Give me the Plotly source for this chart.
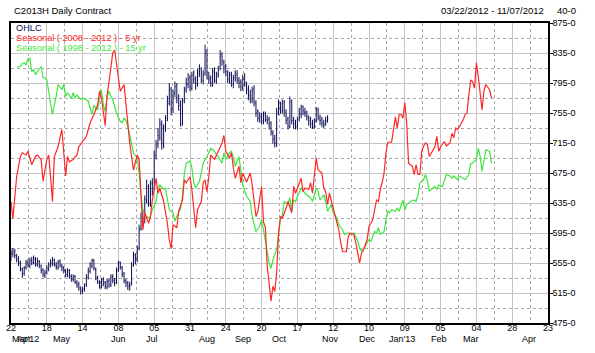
import plotly.graph_objects as go

# ---------------- data (x = trading-day index from 22 Mar 2012) ----------------
ohlc_days = list(range(169))
opens = [562,567,571,564,561,555,547,541,549,556,
         551,559,555,561,553,557,551,546,539,543,
         547,553,554,559,553,549,557,551,549,544,
         539,545,537,533,537,529,527,521,517,521,
         526,536,544,551,559,547,536,529,524,533,
         529,523,531,525,537,531,529,546,556,549,
         541,531,529,522,527,553,566,559,575,601,
         617,612,638,657,633,662,655,698,714,722,
         742,712,737,748,768,787,758,782,792,773,
         768,740,772,787,793,802,788,807,798,793,
         810,814,798,808,838,803,802,792,812,798,
         807,815,833,822,817,808,798,807,793,802,
         807,798,797,788,802,792,787,778,772,787,
         768,757,746,752,743,754,746,747,742,728,
         722,712,757,767,758,770,756,747,736,772,
         743,742,736,747,753,764,756,757,748,747,
         742,736,744,760,748,747,739,742,744]
highs = [573,575,574,567,564,558,549,551,559,560,
         562,563,565,563,562,559,553,548,546,552,
         556,560,563,561,556,559,560,554,551,547,
         548,547,540,540,539,532,530,524,523,528,
         540,549,556,561,560,549,538,532,535,536,
         531,534,534,540,540,535,549,558,557,551,
         543,534,531,530,556,570,568,578,606,622,
         626,645,666,660,665,668,705,719,735,748,
         745,740,752,778,795,790,786,797,795,780,
         772,775,790,802,808,806,810,812,804,814,
         820,816,812,846,840,810,805,815,816,810,
         818,839,836,826,820,812,810,810,806,812,
         812,803,800,806,808,797,792,786,790,792,
         772,760,756,755,757,757,752,750,744,732,
         726,762,773,770,773,772,760,750,777,773,
         750,746,750,762,766,765,762,758,752,750,
         746,748,763,762,753,750,746,750,752]
lows = [558,563,561,556,551,544,535,538,546,549,
        548,552,553,550,550,548,541,536,535,540,
        544,549,551,550,546,546,549,544,541,536,
        536,534,530,530,527,522,518,513,514,517,
        523,533,541,548,545,532,527,521,521,524,
        520,520,522,523,528,524,527,543,546,536,
        528,523,519,518,525,550,553,556,572,598,
        604,608,634,630,630,645,652,693,708,718,
        706,708,730,744,765,752,755,776,768,758,
        737,738,768,782,788,784,785,794,786,790,
        803,795,793,805,800,794,790,790,795,794,
        802,812,818,808,804,795,794,790,788,797,
        794,788,784,785,790,780,772,768,768,764,
        750,743,742,740,740,743,740,733,725,714,
        709,710,752,754,754,750,740,733,735,740,
        734,733,733,744,748,752,750,745,738,735,
        734,734,742,745,739,736,735,738,742]
closes = [568,570,565,560,556,548,540,548,555,552,
          558,556,560,554,558,552,545,540,542,548,
          552,555,558,554,550,556,552,548,545,540,
          544,538,534,536,530,526,522,518,520,524,
          535,545,552,558,548,535,530,525,532,528,
          524,530,526,536,532,528,545,555,550,540,
          532,528,524,525,552,565,560,572,600,615,
          610,640,655,635,660,650,700,712,725,740,
          715,735,745,770,785,760,780,790,775,765,
          742,770,785,795,800,790,805,800,795,808,
          812,800,805,835,805,800,795,810,800,805,
          812,830,825,815,810,800,805,795,800,805,
          800,795,790,800,795,785,780,775,785,770,
          755,748,750,745,752,748,745,740,730,720,
          715,755,765,760,768,758,745,738,770,745,
          740,738,745,755,762,758,755,750,745,740,
          738,742,758,750,745,742,740,745,748]

red_days = [0,1,3,5,6,8,9,11,13,14,16,17,19,20,21,22,23,25,26,27,28,29,30,31,33,35,36,38,
            40,41,42,44,46,47,48,50,51,53,54,55,56,58,60,61,62,63,65,67,68,69,70,71,73,74,
            75,77,78,79,81,83,84,85,86,88,89,91,92,93,95,96,97,98,99,101,102,103,104,105,
            106,108,110,112,113,114,116,117,118,119,121,122,123,125,127,128,130,131,133,
            134,135,136,137,138,139,140,141,142,143,144,146,147,149,150,151,152,154,155,
            156,158,159,160,162,163,165,166,167,168,169,171,172,174,175,176,178,179,180,
            182,183,184,185,186,187,189,190,191,192,194,195,196,197,198,199,200,202,203,
            204,205,206,207,208,209,210,211,213,214,215,216,217,218,219,220,221,222,224,
            225,226,227,228,230,231,233,234,235,236,237,238,240,241,242,243,244,245,246,
            247,248,250,251,252,254,255]
red_vals = [637,614,670,697,702,699,704,686,697,699,693,664,693,699,670,637,697,710,722,733,
            702,671,697,690,693,699,710,717,724,733,742,753,766,784,775,738,779,815,835,839,
            822,784,793,768,740,715,679,699,693,648,599,622,608,617,639,668,648,655,637,608,
            586,574,606,602,624,639,666,662,670,653,624,602,626,637,662,666,650,670,699,693,
            704,715,725,704,695,702,682,668,684,662,675,663,675,659,617,624,657,610,602,550,
            528,504,524,517,542,595,617,615,628,637,622,657,648,655,668,650,655,653,662,648,
            695,679,675,655,650,633,648,628,617,599,582,570,570,590,595,593,582,570,555,568,
            572,586,604,608,613,639,637,653,662,675,702,716,716,733,750,735,753,753,748,769,
            742,688,684,673,686,673,673,704,711,715,713,697,706,710,724,704,710,717,711,715,
            728,722,735,733,737,746,753,755,779,799,797,788,822,804,759,785,793,786,775]

green_days = [3,5,6,7,8,9,10,11,12,13,14,16,17,18,19,20,21,22,23,24,25,27,28,29,30,32,33,34,
              35,37,38,40,41,42,43,44,46,47,48,49,50,51,52,53,54,55,56,58,59,60,61,62,63,64,
              65,67,68,69,70,71,73,74,75,77,78,79,81,82,83,84,86,87,88,90,91,92,93,95,96,97,
              98,100,101,102,104,105,106,108,109,110,112,113,114,116,117,118,119,121,122,
              123,125,127,128,130,132,133,134,136,137,138,139,141,142,143,144,145,147,148,
              149,150,151,153,154,156,157,159,160,162,163,164,166,167,168,170,171,173,174,
              176,177,179,180,182,184,185,186,188,189,190,191,193,194,195,196,198,199,200,
              201,202,204,205,206,208,209,210,211,212,214,215,216,217,219,220,221,222,223,
              225,226,227,229,230,231,233,234,235,237,238,240,241,243,244,245,247,248,249,
              250,251,252,254,255]
green_vals = [816,817,821,822,819,827,828,810,813,806,810,817,802,802,799,784,768,753,766,777,
              793,786,793,777,782,774,782,775,779,773,775,773,771,762,753,765,759,775,786,766,
              757,777,784,777,773,764,755,744,742,748,745,737,724,713,702,695,675,644,626,619,
              615,617,626,637,655,659,653,655,642,626,622,611,617,628,644,675,688,691,682,662,
              655,664,675,688,697,702,708,704,699,697,688,702,693,702,704,695,684,697,679,659,
              644,637,617,597,604,613,599,573,555,548,559,573,590,613,619,637,633,642,624,639,
              637,648,655,648,646,642,637,655,651,639,646,637,624,633,622,615,606,599,593,595,
              593,595,584,575,571,577,582,586,584,597,595,602,593,597,613,624,622,626,624,628,
              624,639,626,633,635,637,639,637,646,662,666,673,664,651,653,657,653,659,657,664,
              673,671,668,671,666,671,668,666,673,688,688,693,708,697,677,693,706,704,688]

x_tick_days = [0, 19, 38, 57, 76, 95, 114, 133, 152, 171, 190, 209, 228, 247, 266, 285]
x_tick_text = ["22", "18", "14", "08", "05", "31", "24", "20", "17", "12", "10", "09", "05", "04", "28", "23"]
month_labels = ["Mar'12", "Apr", "May", "Jun", "Jul", "Aug", "Sep", "Oct", "Nov", "Dec", "Jan'13", "Feb", "Mar", "Apr"]
month_label_days = [0.0, 6.8, 27.3, 57.3, 74.7, 104.1, 123.0, 142.5, 169.8, 189.3, 207.7, 227.2, 244.0, 275.0]
y_tick_vals = [475, 515, 555, 595, 635, 675, 715, 755, 795, 835, 875]
y_tick_text = [f"{v}-0" for v in y_tick_vals]

# ---------------- figure ----------------
W, H = 595, 353
L, R, T, B = 6, 47, 23, 30
FONT = "Arial, Liberation Sans, sans-serif"
NAVY = "#0d0d55"
RED = "#ff2626"
GREEN = "#3ee63e"

def px_x(px):
    return (px - L) / (W - L - R)

def px_y(py):
    return (H - B - py) / (H - T - B)

fig = go.Figure()
fig.add_trace(go.Scatter(x=green_days, y=green_vals, mode="lines",
                         line=dict(color=GREEN, width=1.2), showlegend=False, hoverinfo="skip"))
fig.add_trace(go.Scatter(x=red_days, y=red_vals, mode="lines",
                         line=dict(color=RED, width=1.2), showlegend=False, hoverinfo="skip"))
fig.add_trace(go.Ohlc(x=ohlc_days, open=opens, high=highs, low=lows, close=closes,
                      increasing=dict(line=dict(color=NAVY, width=1)),
                      decreasing=dict(line=dict(color=NAVY, width=1)),
                      tickwidth=0.35, showlegend=False))

fig.update_layout(
    width=W, height=H,
    margin=dict(l=L, r=R, t=T, b=B, pad=0),
    paper_bgcolor="white", plot_bgcolor="white",
    font=dict(family=FONT, size=9, color="black"),
    showlegend=False,
    xaxis=dict(
        range=[0, 285], tickmode="array", tickvals=x_tick_days, ticktext=x_tick_text,
        showgrid=True, gridcolor="#c4c4c4", gridwidth=1,
        showline=True, linecolor="black", linewidth=1.5, mirror=True,
        ticks="", zeroline=False, rangeslider=dict(visible=False),
        tickfont=dict(size=9), ticklabelstandoff=-5,
        minor=dict(tick0=9.5, dtick=19, showgrid=True, gridcolor="#a8a8a8",
                   griddash="dot", gridwidth=1, ticks=""),
    ),
    yaxis=dict(
        range=[475, 875], side="right", tickmode="array",
        tickvals=y_tick_vals, ticktext=y_tick_text,
        showgrid=True, gridcolor="#c4c4c4", gridwidth=1,
        showline=True, linecolor="black", linewidth=1.5, mirror=True,
        ticks="outside", ticklen=3, tickcolor="black", zeroline=False,
        tickfont=dict(size=9), ticklabelstandoff=-2,
        minor=dict(tick0=495, dtick=40, showgrid=True, gridcolor="#a8a8a8",
                   griddash="dot", gridwidth=1, ticks=""),
    ),
)

ann = []
ann.append(dict(text="C2013H Daily Contract", x=px_x(7), y=px_y(10.5), xref="paper", yref="paper",
                xanchor="left", yanchor="middle", showarrow=False, font=dict(size=9.5)))
ann.append(dict(text="03/22/2012 - 11/07/2012", x=px_x(546), y=px_y(10.5), xref="paper", yref="paper",
                xanchor="right", yanchor="middle", showarrow=False, font=dict(size=9.5)))
ann.append(dict(text="40-0", x=px_x(555), y=px_y(10.5), xref="paper", yref="paper",
                xanchor="left", yanchor="middle", showarrow=False, font=dict(size=9.5)))
legend_items = [("OHLC", NAVY), ("Seasonal ( 2008 - 2012 ) - 5 yr", RED),
                ("Seasonal ( 1998 - 2012 ) - 15 yr", GREEN)]
for i, (txt, col) in enumerate(legend_items):
    ann.append(dict(text=txt, x=px_x(9), y=px_y(28.5 + 9.5 * i), xref="paper", yref="paper",
                    xanchor="left", yanchor="middle", showarrow=False,
                    font=dict(size=9.2, color=col)))
for lab, d in zip(month_labels, month_label_days):
    ann.append(dict(text=lab, x=d, y=px_y(339), xref="x", yref="paper",
                    xanchor="left" if lab == "Mar'12" else "center", yanchor="middle",
                    xshift=-1 if lab == "Mar'12" else 0,
                    showarrow=False, font=dict(size=9)))
fig.update_layout(annotations=ann)

fig.write_html("out.html")
